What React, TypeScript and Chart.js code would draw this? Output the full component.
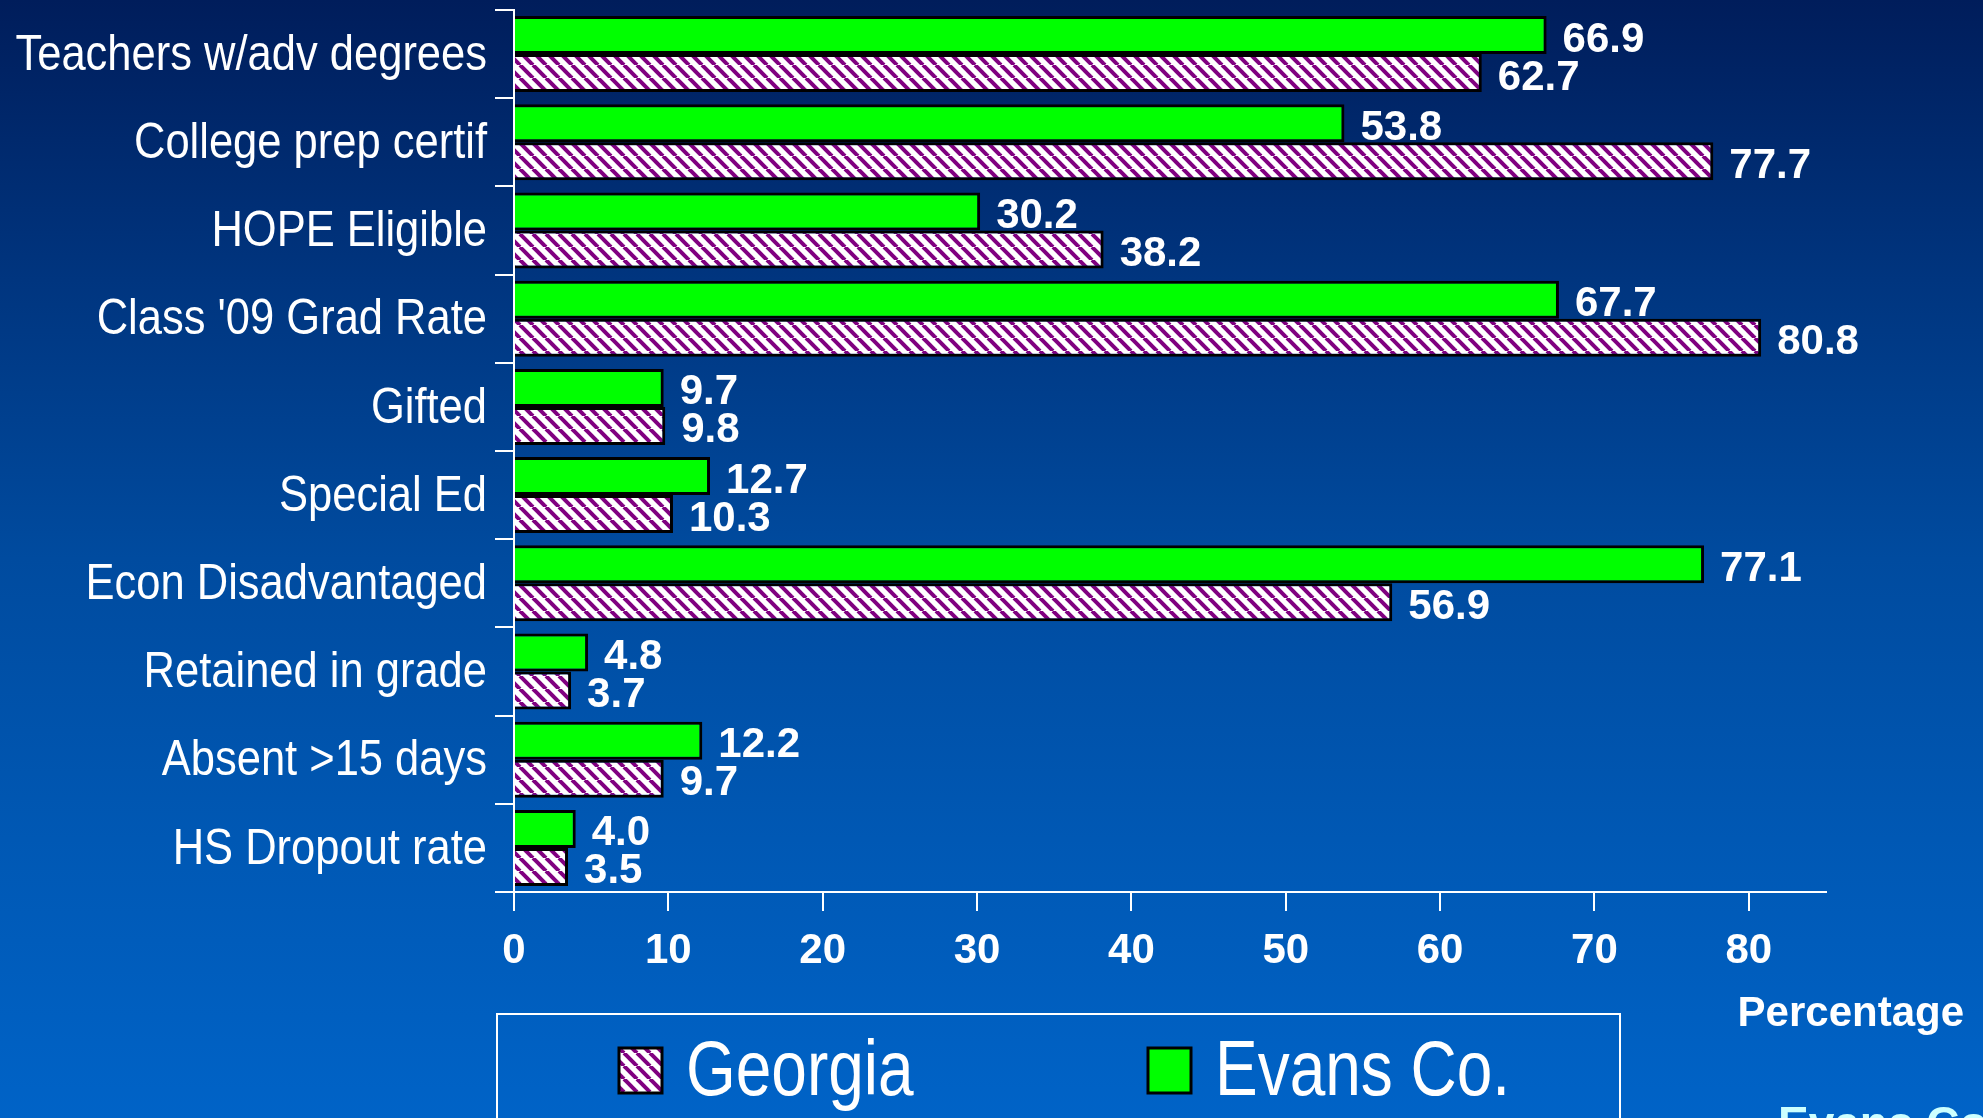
import React, { useEffect, useRef } from "react";
import { Chart, registerables } from "chart.js";

Chart.register(...registerables);

const categories = [
  "Teachers w/adv degrees",
  "College prep certif",
  "HOPE Eligible",
  "Class '09 Grad Rate",
  "Gifted",
  "Special Ed",
  "Econ Disadvantaged",
  "Retained in grade",
  "Absent >15 days",
  "HS Dropout rate",
];
const evansValues = [66.9, 53.8, 30.2, 67.7, 9.7, 12.7, 77.1, 4.8, 12.2, 4.0];
const georgiaValues = [62.7, 77.7, 38.2, 80.8, 9.8, 10.3, 56.9, 3.7, 9.7, 3.5];
const xTickValues = [0, 10, 20, 30, 40, 50, 60, 70, 80];
const evansName = "Evans Co.";
const georgiaName = "Georgia";
const legendOrder = [georgiaName, evansName];
const axisTitle = "Percentage";
const footerText = "Evans County";

const W = 1983;
const H = 1118;
const REG = '"Liberation Sans", Arial, sans-serif';
const BOLD = '"Liberation Sans", Arial, sans-serif';

function makeHatch(): CanvasPattern | string {
  const s = 13;
  const c = document.createElement("canvas");
  c.width = s;
  c.height = s;
  const g = c.getContext("2d");
  if (!g) return "#ffffff";
  g.fillStyle = "#ffffff";
  g.fillRect(0, 0, s, s);
  g.strokeStyle = "#800080";
  g.lineWidth = 4;
  for (const k of [-s, 0, s]) {
    g.beginPath();
    g.moveTo(k, 0);
    g.lineTo(k + s, s);
    g.stroke();
  }
  const p = g.createPattern(c, "repeat");
  return p || "#ffffff";
}

function condensedText(ctx: CanvasRenderingContext2D, text: string, x: number, y: number, sx: number, align: CanvasTextAlign) {
  ctx.save();
  ctx.translate(x, y);
  ctx.scale(sx, 1);
  ctx.textAlign = align;
  ctx.fillText(text, 0, 0);
  ctx.restore();
}

export default function App() {
  const ref = useRef<HTMLCanvasElement | null>(null);

  useEffect(() => {
    if (!ref.current) return;
    const hatch = makeHatch();
    const green = "#00ff00";

    const categoryLabels = {
      id: "categoryLabels",
      afterDraw(chart: any) {
        const ctx = chart.ctx;
        const ys = chart.scales.y;
        ctx.save();
        ctx.fillStyle = "#ffffff";
        ctx.font = `50px ${REG}`;
        ctx.textBaseline = "middle";
        chart.data.labels.forEach((lab: string, i: number) => {
          const y = ys.getPixelForValue(i);
          condensedText(ctx, lab, ys.right - 19 - 8, y + 2, 0.87, "right");
        });
        ctx.restore();
      },
    };

    const valueLabels = {
      id: "valueLabels",
      afterDatasetsDraw(chart: any) {
        const ctx = chart.ctx;
        ctx.save();
        ctx.fillStyle = "#ffffff";
        ctx.font = `bold 42px ${BOLD}`;
        ctx.textAlign = "left";
        ctx.textBaseline = "middle";
        chart.data.datasets.forEach((ds: any, di: number) => {
          const meta = chart.getDatasetMeta(di);
          meta.data.forEach((el: any, i: number) => {
            ctx.fillText(Number(ds.data[i]).toFixed(1), el.x + 16, el.y + 5);
          });
        });
        ctx.restore();
      },
    };

    const extras = {
      id: "extras",
      afterDraw(chart: any) {
        const ctx = chart.ctx;
        ctx.save();
        // axis title
        ctx.fillStyle = "#ffffff";
        ctx.font = `bold 42px ${BOLD}`;
        ctx.textAlign = "right";
        ctx.textBaseline = "alphabetic";
        ctx.fillText(axisTitle, 1964, 1026);

        // legend box
        ctx.strokeStyle = "#ffffff";
        ctx.lineWidth = 2;
        ctx.strokeRect(497, 1014, 1123, 200);
        const swX = [619, 1148];
        legendOrder.forEach((name, i) => {
          const ds = chart.data.datasets.find((d: any) => d.label === name);
          ctx.fillStyle = ds.backgroundColor;
          ctx.fillRect(swX[i], 1048, 43, 45);
          ctx.strokeStyle = "#000000";
          ctx.lineWidth = 3;
          ctx.strokeRect(swX[i], 1048, 43, 45);
          ctx.fillStyle = "#ffffff";
          ctx.font = `78px ${REG}`;
          ctx.textBaseline = "alphabetic";
          condensedText(ctx, name, swX[i] + 67, 1095, 0.82, "left");
        });

        // footer text (cut off at bottom)
        ctx.fillStyle = "#ccffff";
        ctx.font = `bold 46px ${BOLD}`;
        ctx.textAlign = "left";
        ctx.fillText(footerText, 1778, 1139);
        ctx.restore();
      },
    };

    const chart = new Chart(ref.current, {
      type: "bar",
      data: {
        labels: categories,
        datasets: [
          {
            label: evansName,
            data: evansValues,
            backgroundColor: green,
            borderColor: "#000000",
            borderWidth: 3,
          },
          {
            label: georgiaName,
            data: georgiaValues,
            backgroundColor: hatch as any,
            borderColor: "#000000",
            borderWidth: 3,
          },
        ],
      },
      options: {
        indexAxis: "y",
        animation: false,
        responsive: false,
        maintainAspectRatio: false,
        devicePixelRatio: 1,
        layout: { padding: { top: 10, right: 157, left: 0, bottom: 0 } },
        datasets: {
          bar: { categoryPercentage: 0.862, barPercentage: 1.0 },
        },
        plugins: {
          legend: { display: false },
          tooltip: { enabled: false },
        },
        scales: {
          x: {
            type: "linear",
            min: 0,
            max: 85,
            afterBuildTicks: (s: any) => {
              s.ticks = xTickValues.map((v) => ({ value: v }));
            },
            afterFit: (s: any) => {
              s.height = 226;
            },
            grid: {
              drawOnChartArea: false,
              drawTicks: true,
              tickLength: 19,
              color: "#ffffff",
              lineWidth: 2,
            },
            border: { display: true, color: "#ffffff", width: 2 },
            ticks: {
              color: "#ffffff",
              font: { family: BOLD, size: 42, weight: "bold" },
              padding: 15,
              maxRotation: 0,
              autoSkip: false,
            },
          },
          y: {
            type: "category",
            afterFit: (s: any) => {
              s.width = 514;
            },
            grid: {
              drawOnChartArea: false,
              drawTicks: true,
              tickLength: 19,
              color: "#ffffff",
              lineWidth: 2,
              offset: true,
            },
            border: { display: true, color: "#ffffff", width: 2 },
            ticks: {
              display: false,
              autoSkip: false,
            },
          },
        },
      },
      plugins: [valueLabels, categoryLabels, extras],
    } as any);

    return () => chart.destroy();
  }, []);

  return (
    <div
      style={{
        position: "fixed",
        left: 0,
        top: 0,
        width: W,
        height: H,
        overflow: "hidden",
        background:
          "linear-gradient(to bottom, #001d5b 0%, #00357f 25%, #004b9f 50%, #0058b4 75%, #0063c7 100%)",
      }}
    >
      <canvas ref={ref} width={W} height={H} style={{ display: "block", width: W, height: H }} />
    </div>
  );
}
